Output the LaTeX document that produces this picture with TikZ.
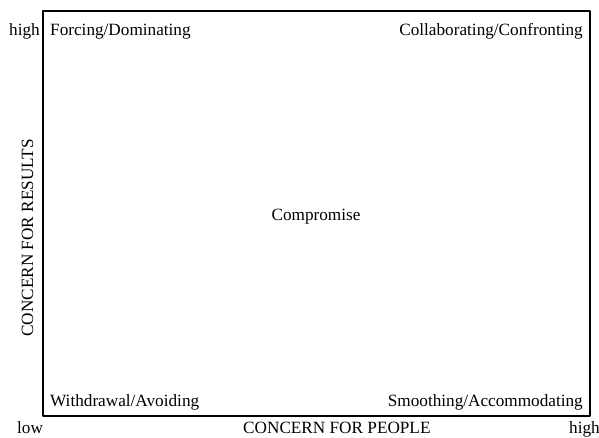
\documentclass[tikz,border=0pt]{standalone}
\usepackage{fontspec}
\setmainfont{Liberation Serif}
\begin{document}
\begin{tikzpicture}[x=1pt, y=-1pt, font=\fontsize{17.2}{20}\selectfont, line join=round, line cap=round]
			\useasboundingbox (0,0) rectangle (599,438);
			\draw[line width=1.6pt] (43,11) rectangle (590,416);
			\node (fd) at (50,36) [anchor=base west, inner sep=0pt]{Forcing/Dominating};
			\node (cc) at (583,36) [anchor=base east, inner sep=0pt]{Collaborating/Confronting};
			\node (cp) at (316,221) [anchor=base, inner sep=0pt]{Compromise};
			\node (wa) at (50,406) [anchor=base west, inner sep=0pt]{Withdrawal/Avoiding};
			\node (sa) at (583,406) [anchor=base east, inner sep=0pt]{Smoothing/Accommodating};
			\node (hy) at (40,36) [anchor=base east, inner sep=0pt]{high};
			\node (lo) at (17,433) [anchor=base west, inner sep=0pt]{low};
			\node (hx) at (569,433) [anchor=base west, inner sep=0pt]{high};
			\node (px) at (243,433) [anchor=base west, inner sep=0pt]{CONCERN FOR PEOPLE};
			\node (ry) at (33,238) [rotate=90, anchor=base, inner sep=0pt]{CONCERN FOR RESULTS};
			\end{tikzpicture}
\end{document}
